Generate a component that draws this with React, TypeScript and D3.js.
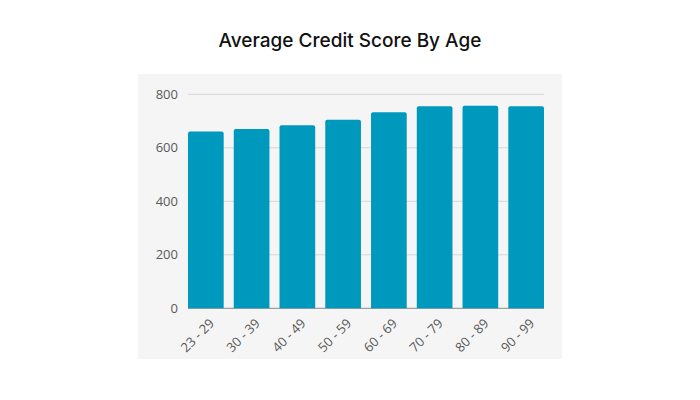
import React from 'react';
import * as d3 from 'd3';

const ageGroups = ['23 - 29', '30 - 39', '40 - 49', '50 - 59', '60 - 69', '70 - 79', '80 - 89', '90 - 99'];
const avgScores = [661, 670, 684, 705, 733, 755, 757, 755];
const yTicks = [0, 200, 400, 600, 800];

const WIDTH = 700;
const HEIGHT = 400;
const panel = { x: 138, y: 74, w: 424, h: 285 };
const plot = { left: 188, right: 544, top: 94.3, bottom: 308.3 };

const BAR_COLOR = '#0099be';
const TEXT_COLOR = '#595959';

// rounded-top bar path
const barPath = (x: number, y: number, w: number, h: number, r: number) =>
  `M${x},${y + h}V${y + r}Q${x},${y} ${x + r},${y}H${x + w - r}Q${x + w},${y} ${x + w},${y + r}V${y + h}Z`;

export default function App() {
  const xScale = d3
    .scaleBand<string>()
    .domain(ageGroups)
    .range([plot.left, plot.right])
    .paddingInner(0.22)
    .paddingOuter(0);

  const yScale = d3.scaleLinear().domain([0, 800]).range([plot.bottom, plot.top]);

  return (
    <svg
      width={WIDTH}
      height={HEIGHT}
      style={{ position: 'absolute', left: 0, top: 0, background: '#ffffff' }}
    >
      <text
        x={350}
        y={47}
        textAnchor="middle"
        fontFamily="Inter, 'DejaVu Sans', sans-serif"
        fontSize={19}
        fontWeight={500}
        fill="#111111"
      >
        Average Credit Score By Age
      </text>

      <rect x={panel.x} y={panel.y} width={panel.w} height={panel.h} fill="#f5f5f5" />

      {/* grid lines */}
      {yTicks.map((t) => (
        <line
          key={`g${t}`}
          x1={plot.left}
          x2={plot.right}
          y1={yScale(t)}
          y2={yScale(t)}
          stroke={t === 0 ? '#8a8a8a' : '#d6d6d6'}
          strokeWidth={1}
        />
      ))}

      {/* y labels */}
      {yTicks.map((t) => (
        <text
          key={`y${t}`}
          x={178}
          y={yScale(t)}
          dy="0.35em"
          textAnchor="end"
          fontFamily="'Open Sans', sans-serif"
          fontSize={13}
          fill={TEXT_COLOR}
        >
          {t}
        </text>
      ))}

      {/* bars */}
      {ageGroups.map((g, i) => {
        const x = xScale(g) as number;
        const y = yScale(avgScores[i]);
        return (
          <path
            key={g}
            d={barPath(x, y, xScale.bandwidth(), plot.bottom - y, 2)}
            fill={BAR_COLOR}
          />
        );
      })}

      {/* x labels */}
      {ageGroups.map((g) => {
        const cx = (xScale(g) as number) + xScale.bandwidth() / 2 + 6;
        const cy = 321;
        return (
          <text
            key={`x${g}`}
            x={cx}
            y={cy}
            transform={`rotate(-45 ${cx} ${cy})`}
            textAnchor="end"
            dy="0.35em"
            fontFamily="'Open Sans', sans-serif"
            fontSize={13}
            fill={TEXT_COLOR}
          >
            {g}
          </text>
        );
      })}
    </svg>
  );
}
